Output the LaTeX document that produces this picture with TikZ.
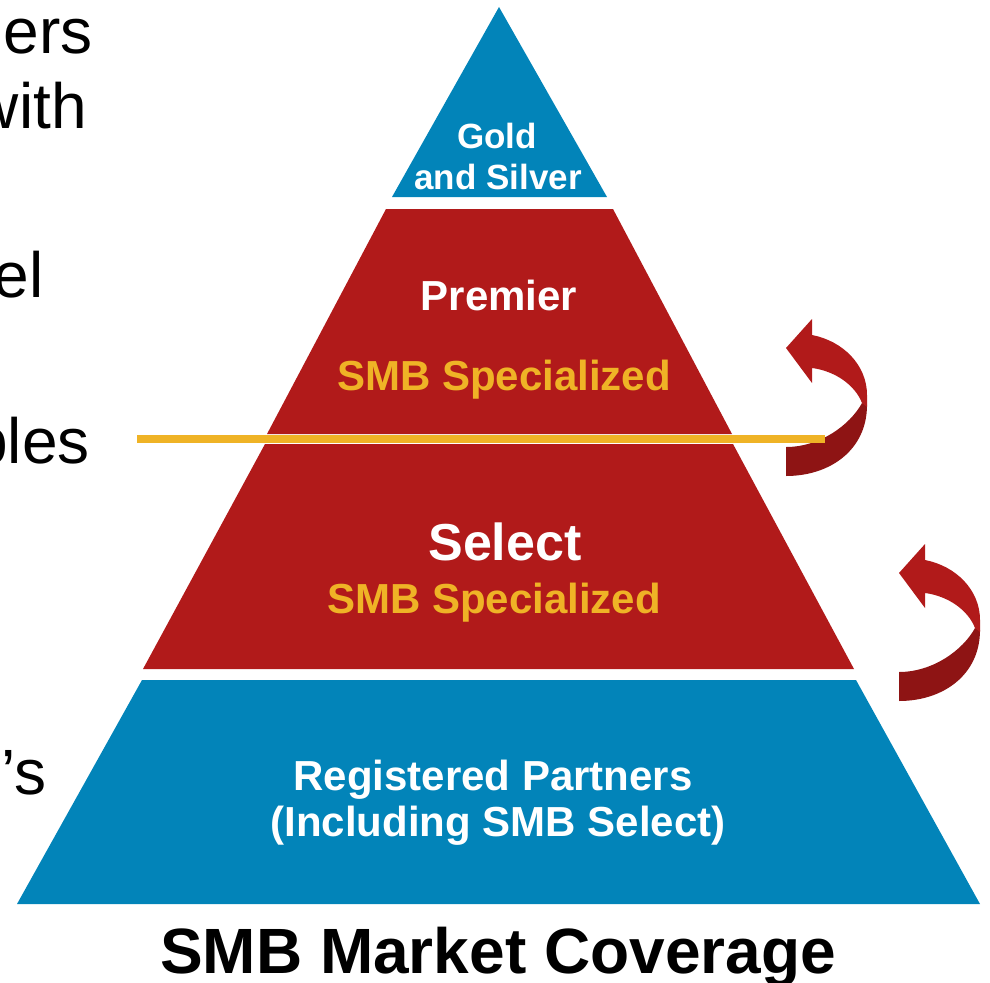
\documentclass[tikz,border=0pt]{standalone}
\usepackage{fontspec}
\setmainfont{Liberation Sans}
\definecolor{tierblue}{RGB}{2,132,185}
\definecolor{tierred}{RGB}{177,26,26}
\definecolor{darkred}{RGB}{142,20,20}
\definecolor{smbgold}{RGB}{239,179,38}
\begin{document}
\begin{tikzpicture}[x=1pt,y=-1pt,
  lbl/.style={text=white,font=\bfseries\fontsize{42}{46}\selectfont,inner sep=0pt,anchor=base},
  side/.style={font=\fontsize{64}{74}\selectfont,inner sep=0pt,anchor=base east}]
\useasboundingbox (0,0) rectangle (990,982);
\clip (0,0) rectangle (990,982);
% pyramid tiers
\fill[tierblue] (499,7) -- (607,197) -- (392,197) -- cycle;
\fill[tierred] (386,209) -- (613,209) -- (732,434) -- (267,434) -- cycle;
\fill[tierred] (265,444) -- (733,444) -- (854,669) -- (143,669) -- cycle;
\fill[tierblue] (142,680) -- (856,680) -- (980,904) -- (17,904) -- cycle;
% curved arrows
\foreach \dx/\dy in {0/0,113/225}{
\begin{scope}[shift={(\dx,\dy)}]
\fill[darkred] (786,476) .. controls (830,476) and (867,450) .. (867,405) -- (862,403) .. controls (850,425) and (820,447) .. (786,447) -- cycle;
\fill[tierred] (867,407) -- (867,395) .. controls (867,365) and (843,341) .. (812,335) -- (812,319) -- (786,348) -- (812,383) -- (812,368) .. controls (835,371) and (855,385) .. (862,403) -- cycle;
\end{scope}}
% yellow line
\draw[smbgold,line width=8] (137,439) -- (825,439);
% tier labels
\node[lbl,font=\bfseries\fontsize{35}{40}\selectfont] (gold) at (497,148) {Gold};
\node[lbl,font=\bfseries\fontsize{35}{40}\selectfont] (silver) at (498,189) {and Silver};
\node[lbl] (premier) at (499,310) {Premier};
\node[lbl,text=smbgold] (spec1) at (504,390) {SMB Specialized};
\node[lbl,font=\bfseries\fontsize{52}{60}\selectfont] (select) at (505,560) {Select};
\node[lbl,text=smbgold] (spec2) at (494,613) {SMB Specialized};
\node[lbl] (registered) at (493,790) {Registered Partners};
\node[lbl] (including) at (498,836) {(Including SMB Select)};
\node[lbl,text=black,font=\bfseries\fontsize{64}{70}\selectfont] (coverage) at (498,973) {SMB Market Coverage};
% cut-off text on the left
\node[side] (ers) at (93,54) {ers};
\node[side] (with) at (87,128) {with};
\node[side] (el) at (44,297) {el};
\node[side] (bles) at (90,463) {bles};
\node[side] (apos) at (47,794) {’s};
\end{tikzpicture}
\end{document}
